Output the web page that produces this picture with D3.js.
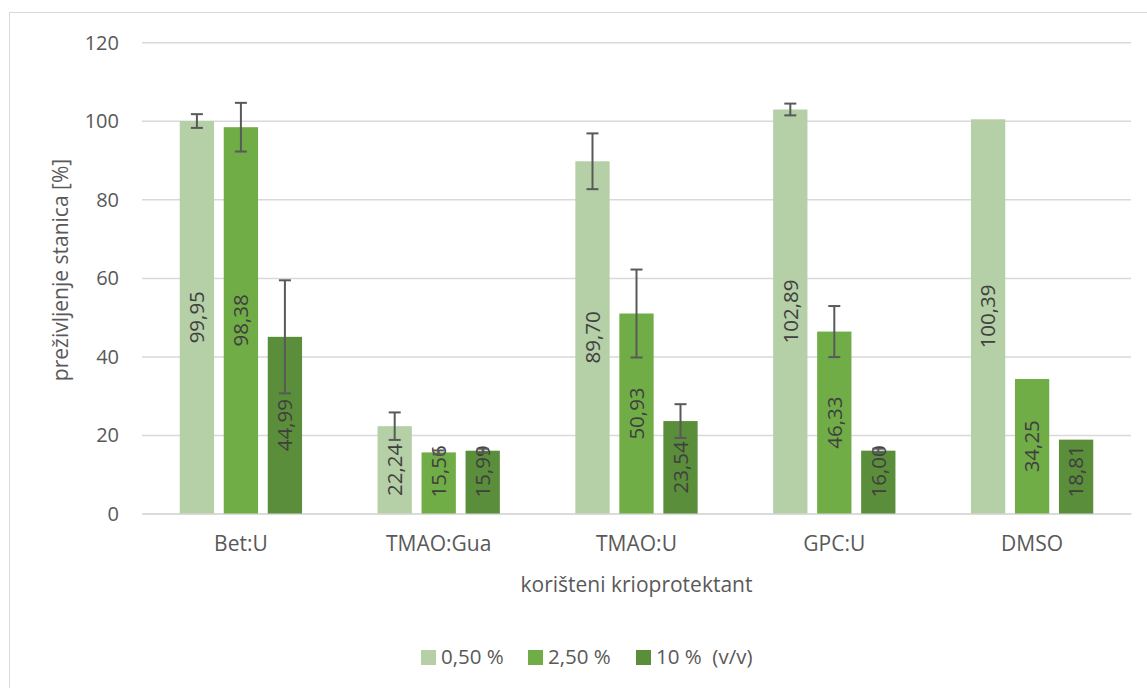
<!DOCTYPE html>
<html>
<head>
<meta charset="utf-8">
<script src="https://cdn.jsdelivr.net/npm/d3@7"></script>
<style>
  html, body { margin: 0; padding: 0; background: #fff; }
  svg { display: block; font-family: "Open Sans", "Noto Sans", sans-serif; }
</style>
</head>
<body>
<svg id="chart" width="1147" height="688"></svg>
<script>
// ---- data ----
const categories = ["Bet:U", "TMAO:Gua", "TMAO:U", "GPC:U", "DMSO"];
const seriesNames = ["0,50 %", "2,50 %", "10 %  (v/v)"];
const values050 = [99.95, 22.24, 89.70, 102.89, 100.39];
const values250 = [98.38, 15.56, 50.93, 46.33, 34.25];
const values10 = [44.99, 15.99, 23.54, 16.00, 18.81];
const errors050 = [1.75, 3.5, 7.1, 1.5, null];
const errors250 = [6.2, 0.5, 11.2, 6.5, null];
const errors10 = [14.4, 0.5, 4.3, 0.5, null];
const labels050 = ["99,95", "22,24", "89,70", "102,89", "100,39"];
const labels250 = ["98,38", "15,56", "50,93", "46,33", "34,25"];
const labels10 = ["44,99", "15,99", "23,54", "16,00", "18,81"];
const yTicks = [0, 20, 40, 60, 80, 100, 120];
const yTitle = "preživljenje stanica [%]";
const xTitle = "korišteni krioprotektant";

const seriesValues = [values050, values250, values10];
const seriesErrors = [errors050, errors250, errors10];
const seriesLabels = [labels050, labels250, labels10];
const colors = ["#b5cfa6", "#70ad47", "#5a8e3a"];

const svg = d3.select("#chart");

// outer border
svg.append("rect").attr("x", 9.5).attr("y", 12.5).attr("width", 1160).attr("height", 700)
  .attr("fill", "none").attr("stroke", "#d9d9d9").attr("stroke-width", 1);

const x0 = 142, x1 = 1131;
const y = d3.scaleLinear().domain([0, 120]).range([513.5, 42.3]);
const x = d3.scaleBand().domain(categories).range([x0, x1]).paddingInner(0).paddingOuter(0);
const bandW = x.bandwidth();
const barW = 34.3, step = 44;

// gridlines
const yAxis = d3.axisLeft(y).tickValues(yTicks).tickSize(-(x1 - x0)).tickPadding(23);
const gy = svg.append("g").attr("transform", `translate(${x0},0)`).call(yAxis);
gy.select(".domain").remove();
gy.selectAll(".tick line").attr("stroke", "#d9d9d9").attr("stroke-width", 1.5);
gy.selectAll(".tick text").attr("fill", "#595959").style("font-size", "20px")
  .style("font-family", "'Open Sans', sans-serif").attr("dy", "0.34em");

// x axis
const xAxis = d3.axisBottom(x).tickSize(0).tickPadding(23);
const gx = svg.append("g").attr("transform", `translate(0,${y(0)})`).call(xAxis);
gx.select(".domain").attr("stroke", "#d9d9d9").attr("stroke-width", 1.5);
gx.selectAll(".tick text").attr("fill", "#595959").style("font-size", "21px")
  .style("font-family", "'Open Sans', sans-serif");

// bars
categories.forEach((c, ci) => {
  const center = x(c) + bandW / 2;
  for (let s = 0; s < 3; s++) {
    const v = seriesValues[s][ci];
    const bx = center + (s - 1) * step - barW / 2;
    svg.append("rect")
      .attr("x", bx).attr("y", y(v)).attr("width", barW).attr("height", y(0) - y(v))
      .attr("fill", colors[s]);
  }
});

// labels (rotated, centered)
categories.forEach((c, ci) => {
  const center = x(c) + bandW / 2;
  for (let s = 0; s < 3; s++) {
    const v = seriesValues[s][ci];
    const cx = center + (s - 1) * step;
    const t = svg.append("text")
      .text(seriesLabels[s][ci])
      .attr("fill", "#404040")
      .style("font-size", "20.5px")
      .attr("text-anchor", "middle")
      .attr("dy", "0.36em");
    const len = t.node().getComputedTextLength();
    let cy = (y(v) + y(0)) / 2;
    cy = Math.min(cy, y(0) - 16 - len / 2);
    t.attr("transform", `translate(${cx},${cy}) rotate(-90)`);
  }
});

// error bars
categories.forEach((c, ci) => {
  const center = x(c) + bandW / 2;
  for (let s = 0; s < 3; s++) {
    const e = seriesErrors[s][ci];
    if (e == null) continue;
    const v = seriesValues[s][ci];
    const cx = center + (s - 1) * step;
    const g = svg.append("g").attr("stroke", "#595959").attr("stroke-width", 2);
    g.append("line").attr("x1", cx).attr("x2", cx).attr("y1", y(v + e)).attr("y2", y(v - e));
    g.append("line").attr("x1", cx - 6).attr("x2", cx + 6).attr("y1", y(v + e)).attr("y2", y(v + e));
    g.append("line").attr("x1", cx - 6).attr("x2", cx + 6).attr("y1", y(v - e)).attr("y2", y(v - e));
  }
});

// axis titles
svg.append("text").text(yTitle)
  .attr("transform", `translate(68,270) rotate(-90)`)
  .attr("text-anchor", "middle").attr("fill", "#595959").style("font-size", "21px");
svg.append("text").text(xTitle)
  .attr("x", (x0 + x1) / 2).attr("y", 592)
  .attr("text-anchor", "middle").attr("fill", "#595959").style("font-size", "21px");

// legend
const legendX = [421, 528, 636];
seriesNames.forEach((n, i) => {
  svg.append("rect").attr("x", legendX[i]).attr("y", 650).attr("width", 15).attr("height", 15)
    .attr("fill", colors[i]);
  svg.append("text").text(n).attr("x", legendX[i] + 20).attr("y", 664)
    .attr("fill", "#595959").style("font-size", "20.5px").style("white-space", "pre")
    .attr("xml:space", "preserve");
});
</script>
</body>
</html>
